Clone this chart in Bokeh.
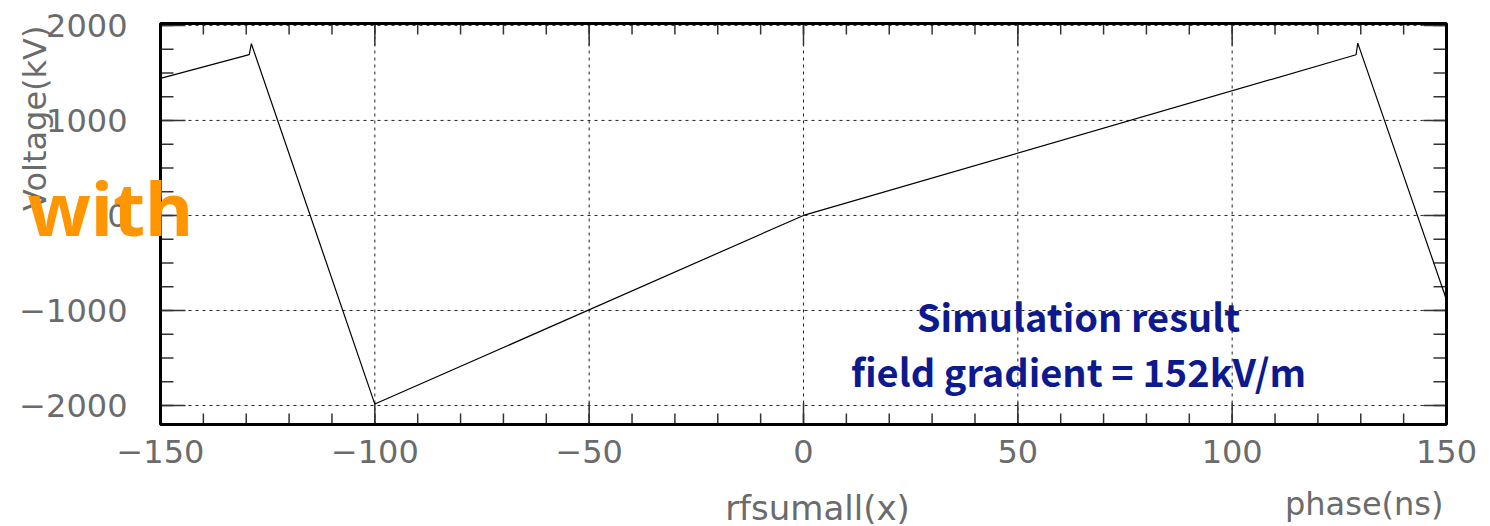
import math
from bokeh.plotting import figure
from bokeh.models import Label, Range1d
from bokeh.core.properties import value
from bokeh.embed import file_html
from bokeh.resources import INLINE

# ---- data ----
phase_ns = [-150.0, -129.3, -128.8, -100.0, 0.0, 128.9, 129.3, 150.0]
voltage_kv = [1442, 1692, 1807, -1985, 0, 1691, 1814, -887]

x_major_ticks = [-150, -100, -50, 0, 50, 100, 150]
x_tick_labels = ["\u2212150", "\u2212100", "\u221250", "0", "50", "100", "150"]
x_minor_ticks = list(range(-150, 151, 10))
y_major_ticks = [-2000, -1000, 0, 1000, 2000]
y_tick_labels = ["\u22122000", "\u22121000", "0", "1000", "2000"]
y_minor_ticks = list(range(-2000, 2001, 250))

x_title_center = "rfsumall(x)"
x_title_right = "phase(ns)"
y_title = "Voltage(kV)"
overlay_word = "with"
note_lines = ["Simulation result", "field gradient = 152kV/m"]

# axis ranges of the plotting box
X0, X1 = -150, 150
Y0, Y1 = -2200, 2020

# canvas and where the plotting box sits on it (pixels)
W, H = 1490, 526
FL, FR, FT, FB = 160, 1446, 23, 424

def dx(px):
    return X0 + (px - FL) * (X1 - X0) / (FR - FL)
def dy(py):
    return Y1 - (py - FT) * (Y1 - Y0) / (FB - FT)
PX = (X1 - X0) / (FR - FL)   # data units per pixel, x
PY = (Y1 - Y0) / (FB - FT)   # data units per pixel, y

p = figure(width=W, height=H, output_backend="svg", toolbar_location=None,
           x_range=Range1d(dx(0), dx(W)), y_range=Range1d(dy(H), dy(0)),
           x_axis_location=None, y_axis_location=None, min_border=0)
p.min_border_left = p.min_border_right = p.min_border_top = p.min_border_bottom = 0
p.outline_line_color = None
p.background_fill_color = "white"
p.border_fill_color = "white"
p.xgrid.visible = False
p.ygrid.visible = False

TICK_FONT = "DejaVu Sans"
TICK_COLOR = "#6b6b6b"
TICK_LINE = "#333333"
SHIFT32 = 12   # renderer baseline offset compensation (px) for 32px text

# dotted grid at the major ticks
p.segment(x0=x_major_ticks, x1=x_major_ticks, y0=[Y0] * len(x_major_ticks), y1=[Y1] * len(x_major_ticks),
          line_color="#222222", line_dash="3 4", line_width=1)
p.segment(x0=[X0] * len(y_major_ticks), x1=[X1] * len(y_major_ticks), y0=y_major_ticks, y1=y_major_ticks,
          line_color="#222222", line_dash="3 4", line_width=1)

# inward ticks on all four sides
def xticks(ticks, length):
    n = len(ticks)
    p.segment(x0=ticks, x1=ticks, y0=[Y0] * n, y1=[Y0 + length * PY] * n,
              line_color=TICK_LINE, line_width=1.5)
    p.segment(x0=ticks, x1=ticks, y0=[Y1] * n, y1=[Y1 - length * PY] * n,
              line_color=TICK_LINE, line_width=1.5)

def yticks(ticks, left_len, right_len):
    n = len(ticks)
    p.segment(x0=[X0] * n, x1=[X0 + left_len * PX] * n, y0=ticks, y1=ticks,
              line_color=TICK_LINE, line_width=1.5)
    p.segment(x0=[X1] * n, x1=[X1 - right_len * PX] * n, y0=ticks, y1=ticks,
              line_color=TICK_LINE, line_width=1.5)

xticks(x_minor_ticks, 11)
xticks(x_major_ticks, 22)
yticks(y_minor_ticks, 13, 13)
yticks(y_major_ticks, 25, 23)

# the curve
p.line(phase_ns, voltage_kv, line_color="black", line_width=1.2)

# frame
p.quad(left=[X0], right=[X1], bottom=[Y0], top=[Y1], fill_color=None,
       line_color="black", line_width=3)

# tick labels
p.text(x=x_major_ticks, y=[dy(463 - SHIFT32)] * len(x_major_ticks), text=x_tick_labels,
       text_align="center", text_baseline="alphabetic",
       text_font=value(TICK_FONT), text_font_size="32px", text_color=TICK_COLOR)
p.text(x=[dx(127)] * len(y_major_ticks), y=[t - (12 - SHIFT32) * PY for t in y_major_ticks],
       text=y_tick_labels, text_align="right", text_baseline="alphabetic",
       text_font=value(TICK_FONT), text_font_size="32px", text_color=TICK_COLOR)

# axis titles
p.add_layout(Label(x=dx(46 - SHIFT32), y=dy(25), text=y_title, angle=math.pi / 2,
                   text_align="right", text_baseline="alphabetic",
                   text_font=TICK_FONT, text_font_size="32px", text_color=TICK_COLOR))
p.add_layout(Label(x=dx(817), y=dy(520 - 13), text=x_title_center,
                   text_align="center", text_baseline="alphabetic",
                   text_font=TICK_FONT, text_font_size="34px", text_color=TICK_COLOR))
p.add_layout(Label(x=dx(1443), y=dy(515 - SHIFT32), text=x_title_right,
                   text_align="right", text_baseline="alphabetic",
                   text_font=TICK_FONT, text_font_size="32px", text_color=TICK_COLOR))

# overlay texts
p.add_layout(Label(x=dx(27), y=dy(238 - 31), text=overlay_word,
                   text_align="left", text_baseline="alphabetic",
                   text_font="Noto Sans", text_font_style="bold",
                   text_font_size="74px", text_color="#FF9500"))
for txt, base in zip(note_lines, [315, 370]):
    p.add_layout(Label(x=dx(1078), y=dy(base), text=txt,
                       text_align="center", text_baseline="alphabetic",
                       text_font="Noto Sans CJK JP", text_font_style="bold",
                       text_font_size="38px", text_color="#0D1A8E"))

open("out.html", "w").write(file_html(p, INLINE))
